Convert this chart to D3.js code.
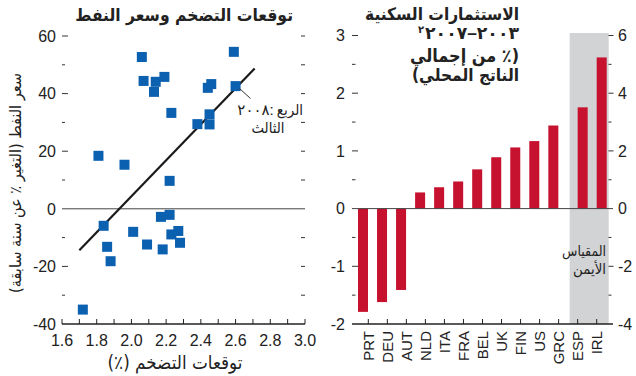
<!DOCTYPE html>
<html><head><meta charset="utf-8">
<script src="https://cdn.jsdelivr.net/npm/d3@7"></script>
<style>
html,body{margin:0;padding:0;background:#fff;}
svg text{font-family:"Liberation Sans","DejaVu Sans",sans-serif;fill:#222;}
svg text.ar{font-family:"DejaVu Sans Condensed","DejaVu Sans",sans-serif;}
</style></head>
<body><svg id="c" width="636" height="376"></svg>
<script>
// ---- Data: left panel (scatter) ----
const inflExpect = [2.06,2.59,2.07,2.14,2.19,2.13,2.23,2.44,2.46,2.60,2.38,2.45,2.45,1.81,1.96,2.22,
                    1.84,1.86,1.88,2.01,2.09,2.17,2.22,2.23,2.27,2.28,2.18,1.72];
const oilChange  = [52.7,54.5,44.4,44.1,45.8,40.6,33.3,42.0,43.3,42.6,29.4,32.8,29.3,18.4,15.3,9.7,
                    -5.9,-13.2,-18.2,-8.0,-12.4,-2.8,-2.1,-8.9,-7.7,-11.8,-14.1,-35.0];
const fitX = [1.70, 2.71];
const fitY = [-14.4, 48.7];
const xTicks = [1.6,1.8,2.0,2.2,2.4,2.6,2.8,3.0];
const yTicksL = [60,40,20,0,-20,-40];
// ---- Data: right panel (bars) ----
const countries = ["PRT","DEU","AUT","NLD","ITA","FRA","BEL","UK","FIN","US","GRC","ESP","IRL"];
const housingInv = [-1.79,-1.62,-1.41,0.28,0.37,0.47,0.68,0.89,1.06,1.17,1.44,3.51,5.24];
const onRightScale = [0,0,0,0,0,0,0,0,0,0,0,1,1];
const yTicksBarL = [3,2,1,0,-1,-2];
const yTicksBarR = [6,4,2,0,-2,-4];

const svg = d3.select("#c");
const BLUE = "#0b60b0", RED = "#c6112f", GREY = "#d2d3d5";

// fit a text's font size so its rendered width equals a target width
function fit(sel, target, base){
  sel.attr("font-size",base);
  const w = sel.node().getComputedTextLength();
  const s = Math.max(base*0.75, Math.min(base*1.25, base*target/w));
  sel.attr("font-size",s);
  return s;
}
function rtl(xr, yy, txt, size, bold, fill){
  return svg.append("text").attr("class","ar").attr("x",xr).attr("y",yy).attr("text-anchor","start")
    .attr("direction","rtl").attr("font-size",size).attr("font-weight",bold?"bold":"normal")
    .attr("fill",fill||"#222").text(txt);
}

// ================= LEFT PANEL =================
const x = d3.scaleLinear().domain([1.6,3.0]).range([62,305]);
const y = d3.scaleLinear().domain([-40,60]).range([324,36]);

svg.append("g").selectAll("text").data(yTicksL).join("text")
  .attr("x",56).attr("y",d=>y(d)).attr("dy","0.36em").attr("text-anchor","end")
  .attr("font-size",16).text(d=>d);
const yMinor = d3.range(-40,61,10).filter(d=>d!==0&&d!==-40);
svg.append("g").selectAll("line").data(yMinor).join("line")
  .attr("x1",62).attr("x2",d=>d%20===0?68:65).attr("y1",d=>y(d)).attr("y2",d=>y(d))
  .attr("stroke","#333").attr("stroke-width",1);
svg.append("g").selectAll("line").data(yMinor).join("line")
  .attr("x1",301).attr("x2",305).attr("y1",d=>y(d)).attr("y2",d=>y(d))
  .attr("stroke","#333").attr("stroke-width",1);
svg.append("line").attr("x1",62).attr("x2",305).attr("y1",y(0)).attr("y2",y(0))
  .attr("stroke","#444").attr("stroke-width",1);
svg.append("line").attr("x1",62).attr("x2",305).attr("y1",y(-40)).attr("y2",y(-40))
  .attr("stroke","#222").attr("stroke-width",1.3);
svg.append("g").selectAll("line").data(d3.range(16,31).map(d=>d/10)).join("line")
  .attr("x1",d=>x(d)).attr("x2",d=>x(d)).attr("y1",y(-40)).attr("y2",y(-40)-5)
  .attr("stroke","#222").attr("stroke-width",1);
svg.append("g").selectAll("text").data(xTicks).join("text")
  .attr("x",d=>x(d)).attr("y",346).attr("text-anchor","middle").attr("font-size",16)
  .text(d=>d.toFixed(1));
svg.append("line").attr("x1",x(fitX[0])).attr("y1",y(fitY[0])).attr("x2",x(fitX[1])).attr("y2",y(fitY[1]))
  .attr("stroke","#1a1a1a").attr("stroke-width",2.2);
svg.append("g").selectAll("rect").data(inflExpect).join("rect")
  .attr("x",d=>x(d)-5).attr("y",(d,i)=>y(oilChange[i])-5).attr("width",10).attr("height",10)
  .attr("fill",BLUE);
// annotation
svg.append("line").attr("x1",239.5).attr("y1",88.5).attr("x2",250.5).attr("y2",98.5)
  .attr("stroke","#333").attr("stroke-width",1);
const q = rtl(303,115,"الربع",15,false);
const qw = q.node().getComputedTextLength();
svg.append("text").attr("x",303-qw-3).attr("y",115).attr("text-anchor","end").attr("font-size",15)
  .text("\u202D٢٠٠٨:\u202C");
const q2 = svg.append("text").attr("class","ar").attr("x",268).attr("y",133).attr("text-anchor","middle")
  .attr("direction","rtl").text("الثالث");
fit(q2,33,15);
// titles
const tL = rtl(293,21,"توقعات التضخم وسعر النفط",17,true);
const tSize = fit(tL,218,17);
const xt = svg.append("text").attr("class","ar").attr("x",175).attr("y",369).attr("text-anchor","middle")
  .attr("direction","rtl").text("توقعات التضخم (٪)");
fit(xt,135,15);
const yt = svg.append("text").attr("class","ar").attr("transform","translate(21,183) rotate(-90)")
  .attr("text-anchor","middle").attr("direction","rtl").text("سعر النفط (التغير ٪ عن سنة سابقة)");
fit(yt,220,15);

// ================= RIGHT PANEL =================
const yl = d3.scaleLinear().domain([-2,3]).range([324,35.5]);
const yr = d3.scaleLinear().domain([-4,6]).range([324,35.5]);
const xb = d3.scalePoint().domain(countries).range([368.3,596.7]);

svg.append("rect").attr("x",xb("ESP")-8).attr("y",yr(6)-2.5)
  .attr("width",xb("IRL")-xb("ESP")+20).attr("height",yr(-4)-yr(6)+2.5).attr("fill",GREY);

svg.append("g").selectAll("text").data(yTicksBarL).join("text")
  .attr("x",345).attr("y",d=>yl(d)).attr("dy","0.36em").attr("text-anchor","end")
  .attr("font-size",16).text(d=>d);
svg.append("g").selectAll("line").data(d3.range(-1.5,3.01,0.5).filter(d=>d!==0)).join("line")
  .attr("x1",352).attr("x2",d=>Number.isInteger(d)?358:355.5).attr("y1",d=>yl(d)).attr("y2",d=>yl(d))
  .attr("stroke","#333").attr("stroke-width",1);
svg.append("g").selectAll("text").data(yTicksBarR).join("text")
  .attr("x",618).attr("y",d=>yr(d)).attr("dy","0.36em").attr("text-anchor","start")
  .attr("font-size",16).text(d=>d);
svg.append("g").selectAll("line").data(d3.range(-3,6.01,1).filter(d=>d!==0)).join("line")
  .attr("x1",608.5).attr("x2",d=>d%2===0?613.5:611.5).attr("y1",d=>yr(d)).attr("y2",d=>yr(d))
  .attr("stroke","#333").attr("stroke-width",1);

svg.append("g").selectAll("rect").data(countries).join("rect")
  .attr("x",(c,i)=>onRightScale[i]?xb(c):xb(c)-10.3)
  .attr("width",10)
  .attr("y",(c,i)=>{const s=onRightScale[i]?yr:yl;return Math.min(s(0),s(housingInv[i]));})
  .attr("height",(c,i)=>{const s=onRightScale[i]?yr:yl;return Math.abs(s(housingInv[i])-s(0));})
  .attr("fill",RED);

svg.append("line").attr("x1",352).attr("x2",613).attr("y1",yl(0)).attr("y2",yl(0))
  .attr("stroke","#444").attr("stroke-width",1);
svg.append("line").attr("x1",352).attr("x2",613).attr("y1",yl(-2)).attr("y2",yl(-2))
  .attr("stroke","#222").attr("stroke-width",1.3);
svg.append("g").selectAll("line").data(countries).join("line")
  .attr("x1",c=>xb(c)).attr("x2",c=>xb(c)).attr("y1",yl(-2)).attr("y2",yl(-2)-5)
  .attr("stroke","#222").attr("stroke-width",1);
svg.append("g").selectAll("text").data(countries).join("text")
  .attr("transform",c=>`translate(${xb(c)},331) rotate(-90)`)
  .attr("text-anchor","end").attr("dy","0.36em").attr("font-size",15).text(c=>c);

const s1 = rtl(606,256,"المقياس",14,false,"#333");
fit(s1,44,14);
const s2 = rtl(606,274,"الأيمن",14,false,"#333");
fit(s2,33,14);

// right title
const tR = 519;
const r1 = rtl(tR,20,"الاستثمارات السكنية",17,true);
const rs = fit(r1,154,17);
const r3 = rtl(tR,62,"(٪ من إجمالي",rs,true);
fit(r3,109,rs);
const r4 = rtl(tR,81,"الناتج المحلي)",rs,true);
fit(r4,107,rs);
const yrTxt = svg.append("text").attr("x",tR).attr("y",39).attr("text-anchor","end")
  .attr("font-size",17).attr("font-weight","bold").text("\u202D٢٠٠٧–٢٠٠٣\u202C");
fit(yrTxt,94,17);
const w = yrTxt.node().getComputedTextLength();
svg.append("text").attr("x",tR-w-1).attr("y",33).attr("text-anchor","end")
  .attr("font-size",10).attr("font-weight","bold").text("٢");
</script></body></html>
